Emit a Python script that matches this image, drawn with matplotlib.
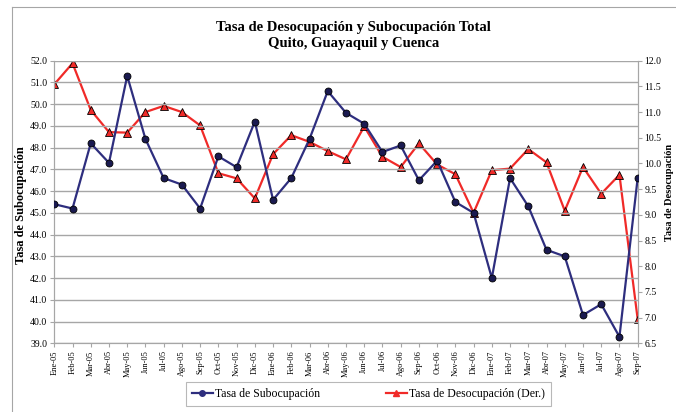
import matplotlib
matplotlib.use("Agg")
import matplotlib.pyplot as plt
from matplotlib.lines import Line2D

meses = ["Ene-05", "Feb-05", "Mar-05", "Abr-05", "May-05", "Jun-05", "Jul-05", "Ago-05",
         "Sep-05", "Oct-05", "Nov-05", "Dic-05", "Ene-06", "Feb-06", "Mar-06", "Abr-06",
         "May-06", "Jun-06", "Jul-06", "Ago-06", "Sep-06", "Oct-06", "Nov-06", "Dic-06",
         "Ene-07", "Feb-07", "Mar-07", "Abr-07", "May-07", "Jun-07", "Jul-07", "Ago-07",
         "Sep-07"]

# tasa de subocupacion (eje izquierdo)
subocupacion = [45.4, 45.2, 48.2, 47.3, 51.3, 48.4, 46.6, 46.3, 45.2, 47.6, 47.1, 49.2,
                45.6, 46.6, 48.4, 50.6, 49.6, 49.1, 47.8, 48.1, 46.5, 47.4, 45.5, 45.0,
                42.0, 46.6, 45.3, 43.3, 43.0, 40.3, 40.8, 39.3, 46.6]

# tasa de desocupacion (eje derecho)
desocupacion = [11.54, 11.95, 11.04, 10.61, 10.6, 11.0, 11.12, 11.0, 10.74, 9.81, 9.71, 9.32,
                10.18, 10.55, 10.42, 10.24, 10.08, 10.72, 10.13, 9.93, 10.39, 9.98, 9.79, 9.04,
                9.87, 9.9, 10.28, 10.02, 9.08, 9.93, 9.41, 9.78, 6.97]

plt.rcParams['font.family'] = ['Liberation Serif', 'DejaVu Serif']

AZUL = '#2E2E7E'
ROJO = '#F02A28'
GRIS = '#A6A6A6'

fig = plt.figure(figsize=(6.76, 4.12), dpi=100)
W, H = 676, 412

# marco exterior del grafico (solo se ven el borde izquierdo y superior)
fig.add_artist(Line2D([12 / W, 12 / W], [0, 1 - 7 / H], color=GRIS, lw=0.8))
fig.add_artist(Line2D([12 / W, 1], [1 - 7 / H, 1 - 7 / H], color=GRIS, lw=0.8))

ax = fig.add_axes([0.0803, 0.1667, 0.863, 0.6860])
ax2 = ax.twinx()

x = list(range(len(meses)))

ax.plot(x, subocupacion, color=AZUL, lw=1.6, marker='o', ms=5,
        mfc='#1A1A50', mec='black', mew=0.6, zorder=3)
ax2.plot(x, desocupacion, color=ROJO, lw=1.6, marker='^', ms=5.5,
         mfc=ROJO, mec='black', mew=0.6, zorder=3)

# ejes
ax.set_xlim(0, len(meses) - 1)
ax.set_ylim(39, 52)
ax2.set_ylim(6.5, 12)
ax.set_yticks([39 + i for i in range(14)])
ax.set_yticklabels([f"{39 + i:.1f}" for i in range(14)], fontsize=7)
ax2.set_yticks([6.5 + 0.5 * i for i in range(12)])
ax2.set_yticklabels([f"{6.5 + 0.5 * i:.1f}" for i in range(12)], fontsize=7)
ax.set_xticks(x)
ax.set_xticklabels(meses, rotation=90, fontsize=6)

ax.yaxis.grid(True, color=GRIS, lw=1.0)
ax.set_axisbelow(True)

for a in (ax, ax2):
    a.spines['top'].set_visible(False)
    a.spines['left'].set_color(GRIS)
    a.spines['right'].set_color(GRIS)
    a.spines['bottom'].set_color(GRIS)
    a.tick_params(axis='both', color=GRIS, length=3, width=0.8, pad=2)
ax.set_zorder(ax2.get_zorder() + 1)
ax.patch.set_visible(False)

fig.text(21 / W, 1 - 205 / H, "Tasa de Subocupación", rotation=90, fontsize=9,
         fontweight='bold', ha='center', va='center')
fig.text(669 / W, 1 - 192 / H, "Tasa de Desocupación", rotation=90, fontsize=7.5,
         fontweight='bold', ha='center', va='center')

fig.suptitle("Tasa de Desocupación y Subocupación Total\nQuito, Guayaquil y Cuenca",
             fontsize=10.5, fontweight='bold', x=0.523, y=1 - 21 / H, va='top',
             linespacing=1.3)

# leyenda
handles = [
    Line2D([], [], color=AZUL, lw=1.6, marker='o', ms=4, mfc=AZUL, mec=AZUL),
    Line2D([], [], color=ROJO, lw=1.6, marker='^', ms=4.5, mfc=ROJO, mec=ROJO),
]
leg = fig.legend(handles, ["Tasa de Subocupación", "Tasa de Desocupación (Der.)"],
                 loc='center', bbox_to_anchor=(0.545, 0.044), ncol=2, fontsize=8.5,
                 frameon=True, fancybox=False, edgecolor=GRIS, columnspacing=5.5,
                 handlelength=1.8, handletextpad=0.2, borderpad=0.5)
leg.get_frame().set_linewidth(0.8)

fig.savefig("out.png", dpi=100)
